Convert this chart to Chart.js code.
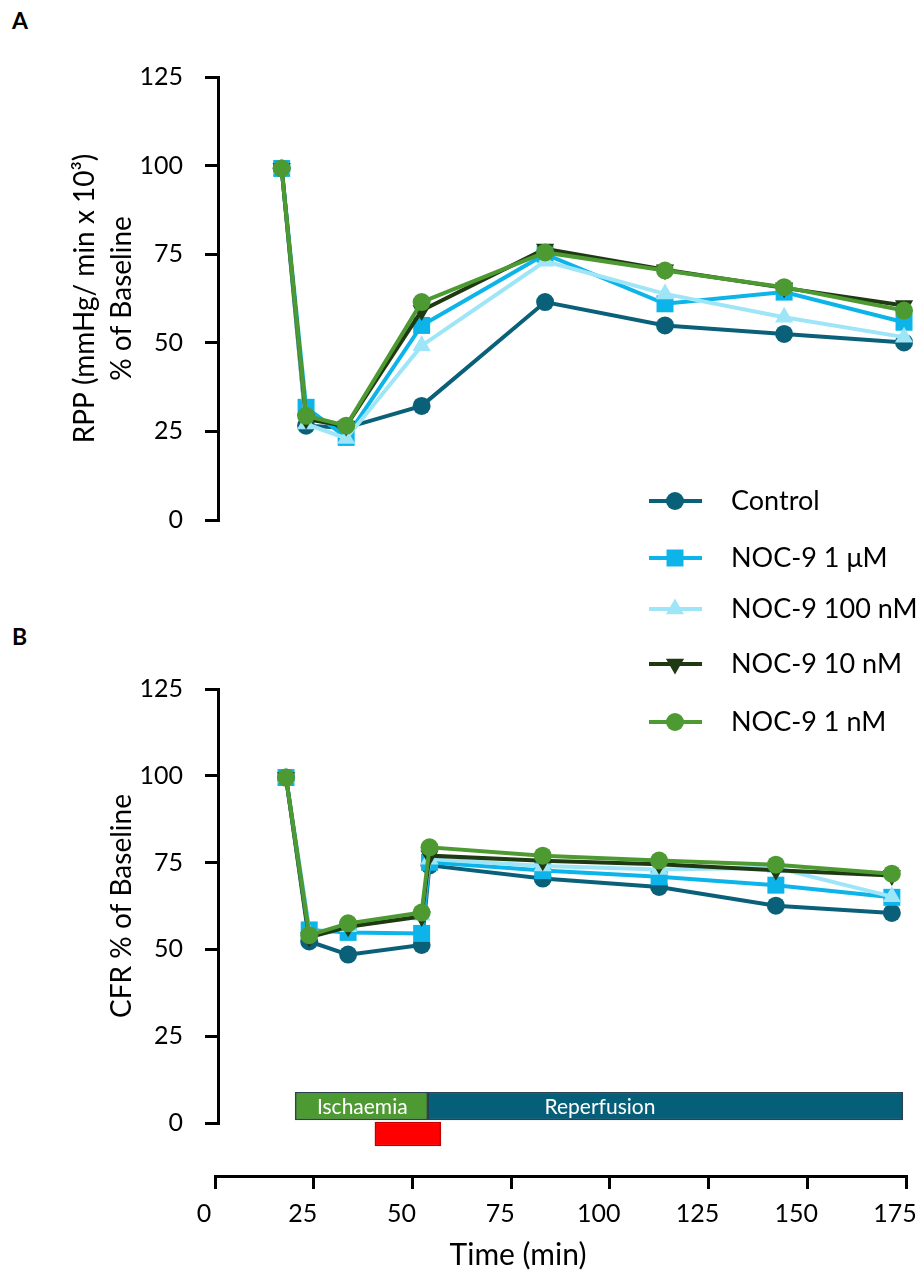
<!DOCTYPE html>
<html>
<head>
<meta charset="utf-8">
<script src="https://cdn.jsdelivr.net/npm/chart.js@4.4.1/dist/chart.umd.min.js"></script>
<style>
  body { margin: 0; background: #fff; }
  #wrap { position: relative; width: 920px; height: 1284px; background: #fff; overflow: hidden; font-family: Lato, sans-serif; }
  canvas { position: absolute; }
  .panel { position: absolute; font-weight: bold; font-size: 23px; color: #000; }
</style>
</head>
<body>
<div id="wrap">
  <div class="panel" style="left:12px; top:6px">A</div>
  <div class="panel" style="left:12px; top:622px">B</div>
  <canvas id="chartA" style="left:0; top:0" width="920" height="760"></canvas>
  <canvas id="chartB" style="left:0; top:620px" width="920" height="540"></canvas>
  <canvas id="chartC" style="left:130px; top:1060px" width="790" height="224"></canvas>
</div>
<script>
// series
const seriesNames = ["Control", "NOC-9 1 μM", "NOC-9 100 nM", "NOC-9 10 nM", "NOC-9 1 nM"];
const seriesColors = ["#0B6079", "#0DB4E9", "#9EE5F7", "#1F3A12", "#4E9A32"];
const pointStyles = ["circle", "rect", "triangle", "triangle", "circle"];
const pointRotations = [0, 0, 0, 180, 0];
const pointRadii = [9, 12, 10.5, 10.5, 9];

// panel A: RPP (% of baseline)
const timeA = [16.2, 22.4, 32.6, 51.8, 83.2, 113.7, 144, 174.5];
const rppControl = [99.2, 26.6, 26.0, 32.2, 61.5, 54.9, 52.5, 50.1];
const rpp1uM     = [99.2, 31.8, 23.3, 54.9, 75.0, 61.0, 64.3, 55.8];
const rpp100nM   = [99.2, 27.1, 23.0, 49.2, 73.0, 63.8, 57.2, 51.6];
const rpp10nM    = [99.2, 28.5, 26.5, 59.1, 76.5, 70.6, 65.5, 60.5];
const rpp1nM     = [99.2, 29.4, 26.6, 61.5, 75.5, 70.4, 65.7, 59.1];

// panel B: CFR (% of baseline)
const timeB = [17.3, 23.2, 33.1, 51.8, 53.8, 82.6, 112.2, 141.9, 171.4];
const cfrControl = [99.5, 52.3, 48.5, 51.3, 74.2, 70.4, 68.0, 62.6, 60.5];
const cfr1uM     = [99.5, 55.6, 54.9, 54.6, 75.1, 72.7, 70.9, 68.5, 65.0];
const cfr100nM   = [99.5, 54.5, 56.5, 59.8, 76.0, 74.0, 73.0, 73.5, 65.2];
const cfr10nM    = [99.5, 53.5, 56.5, 59.5, 77.0, 75.5, 74.5, 72.8, 71.3];
const cfr1nM     = [99.5, 54.1, 57.5, 60.6, 79.4, 77.0, 75.6, 74.4, 71.8];

const yTicks = [0, 25, 50, 75, 100, 125];
const xTicks = [0, 25, 50, 75, 100, 125, 150, 175];

// protocol bars (min)
const phaseNames = ["Ischaemia", "Reperfusion"];
const phaseStart = [20.3, 53.9];
const phaseEnd = [53.9, 174.2];
const phaseLabelAt = [37.3, 97.5];
const drugWindow = [40.5, 57.2];

Chart.defaults.font.family = "Lato";
Chart.defaults.color = "#000";

const tickFont = { family: "Lato", size: 25 };

function makeDatasets(time, values) {
  return values.map((vals, i) => ({
    label: seriesNames[i],
    data: vals.map((v, j) => ({ x: time[j], y: v })),
    borderColor: seriesColors[i],
    backgroundColor: seriesColors[i],
    borderWidth: 4,
    pointStyle: pointStyles[i],
    pointRotation: pointRotations[i],
    pointRadius: pointRadii[i],
    pointBorderWidth: 0,
    tension: 0,
    clip: false,
    order: values.length - i
  }));
}

function yAxis(titleText, titlePad) {
  return {
    min: 0, max: 125,
    afterBuildTicks: s => { s.ticks = yTicks.map(v => ({ value: v })); },
    ticks: { font: tickFont, color: "#000", padding: 22 },
    grid: { drawOnChartArea: false, tickLength: 13, color: "#000", lineWidth: 3 },
    border: { color: "#000", width: 3 },
    title: { display: true, text: titleText, color: "#000",
             font: { family: "Lato", size: 28, lineHeight: 1.32 }, padding: { top: titlePad, bottom: 0 } },
    afterFit: s => { s.width = 218; }
  };
}

const legendY = [501, 558, 609, 664, 722];
const legendPlugin = {
  id: "sideLegend",
  afterDraw(chart) {
    const ctx = chart.ctx;
    ctx.save();
    seriesNames.forEach((name, i) => {
      const y = legendY[i];
      ctx.strokeStyle = seriesColors[i];
      ctx.lineWidth = 4;
      ctx.beginPath();
      ctx.moveTo(649, y);
      ctx.lineTo(702, y);
      ctx.stroke();
      ctx.fillStyle = seriesColors[i];
      Chart.helpers.drawPoint(ctx, { pointStyle: pointStyles[i], radius: pointRadii[i], rotation: pointRotations[i], borderWidth: 0 }, 675, y);
      ctx.fillStyle = "#000";
      ctx.font = "27px Lato";
      ctx.textAlign = "left";
      ctx.textBaseline = "middle";
      ctx.fillText(name, 731, y);
    });
    ctx.restore();
  }
};

new Chart(document.getElementById("chartA"), {
  type: "line",
  data: { datasets: makeDatasets(timeA, [rppControl, rpp1uM, rpp100nM, rpp10nM, rpp1nM]) },
  options: {
    responsive: false,
    animation: false,
    layout: { padding: { top: 77, right: 14, bottom: 240, left: 0 } },
    plugins: { legend: { display: false }, tooltip: { enabled: false } },
    scales: {
      x: { type: "linear", min: 0, max: 175, display: false },
      y: yAxis(["RPP (mmHg/ min x 10³)", "% of Baseline"], 66.5)
    }
  },
  plugins: [legendPlugin]
});

new Chart(document.getElementById("chartB"), {
  type: "line",
  data: { datasets: makeDatasets(timeB, [cfrControl, cfr1uM, cfr100nM, cfr10nM, cfr1nM]) },
  options: {
    responsive: false,
    animation: false,
    layout: { padding: { top: 69, right: 14, bottom: 30, left: 0 } },
    plugins: { legend: { display: false }, tooltip: { enabled: false } },
    scales: {
      x: { type: "linear", min: 0, max: 175, display: false },
      y: yAxis("CFR % of Baseline", 103)
    }
  }
});

// protocol bars + time axis
const phaseLabelPlugin = {
  id: "phaseLabels",
  afterDatasetsDraw(chart) {
    const ctx = chart.ctx;
    const xs = chart.scales.x, ys = chart.scales.y;
    ctx.save();
    ctx.fillStyle = "#fff";
    ctx.font = "21px Lato";
    ctx.textAlign = "center";
    ctx.textBaseline = "middle";
    phaseNames.forEach((n, i) => {
      ctx.fillText(n, xs.getPixelForValue(phaseLabelAt[i]), ys.getPixelForValue(0) + 1);
    });
    ctx.restore();
  }
};

new Chart(document.getElementById("chartC"), {
  type: "bar",
  data: {
    labels: ["phase", "drug", ""],
    datasets: [
      { label: phaseNames[0], data: [[phaseStart[0], phaseEnd[0]], null, null],
        backgroundColor: "#4E9A32", borderColor: "#2E4152", borderWidth: 1.5, borderSkipped: false, barThickness: 28, grouped: false },
      { label: phaseNames[1], data: [[phaseStart[1], phaseEnd[1]], null, null],
        backgroundColor: "#065F78", borderColor: "#2E4152", borderWidth: 1.5, borderSkipped: false, barThickness: 28, grouped: false },
      { label: "NOC-9", data: [null, drugWindow, null],
        backgroundColor: "#FF0000", borderColor: "#C00000", borderWidth: 1.5, borderSkipped: false, barThickness: 24, grouped: false }
    ]
  },
  options: {
    indexAxis: "y",
    responsive: false,
    animation: false,
    layout: { padding: { top: 32, right: 14, bottom: 0, left: 0 } },
    plugins: {
      legend: { display: false },
      tooltip: { enabled: false },
      title: { display: true, position: "bottom", text: "Time (min)", color: "#000",
               font: { family: "Lato", size: 30, weight: "normal", lineHeight: 1.2 }, padding: { top: 0, bottom: 11 } }
    },
    scales: {
      // invisible spacer axis keeps the plot aligned with the panels above
      y: { display: true, ticks: { display: false }, grid: { display: false }, border: { display: false },
           afterFit: s => { s.width = 85; } },
      x: {
        type: "linear", min: 0, max: 175,
        afterBuildTicks: s => { s.ticks = xTicks.map(v => ({ value: v })); },
        ticks: { font: tickFont, color: "#000", padding: 10, labelOffset: -11 },
        grid: { drawOnChartArea: false, tickLength: 13, color: "#000", lineWidth: 3 },
        border: { color: "#000", width: 3 },
        afterFit: s => { s.height = 61; s.paddingLeft = 0; s.paddingRight = 0; }
      }
    }
  },
  plugins: [phaseLabelPlugin]
});
</script>
</body>
</html>
